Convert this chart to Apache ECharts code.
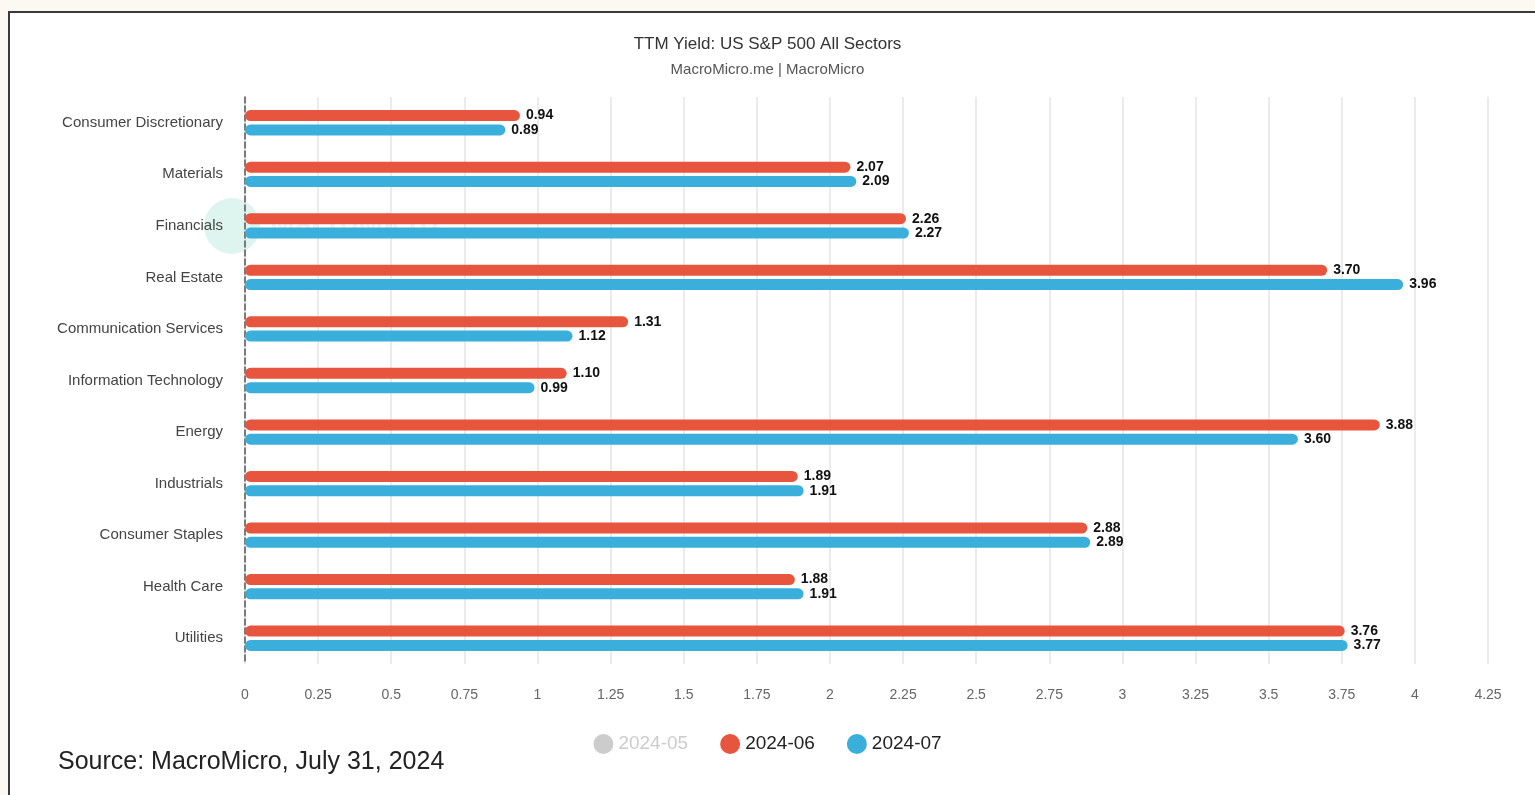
<!DOCTYPE html>
<html>
<head>
<meta charset="utf-8">
<title>TTM Yield: US S&P 500 All Sectors</title>
<script src="https://cdn.jsdelivr.net/npm/echarts@6/dist/echarts.min.js"></script>
<style>
    html, body { margin: 0; padding: 0; background: #fcf8f2; overflow: hidden; }
    #frame {
        position: absolute; left: 8px; top: 11px; width: 1540px; height: 800px;
        background: #fff; border-top: 2px solid #3a3a3a; border-left: 2px solid #3a3a3a;
    }
    #main { position: absolute; left: 0; top: 0; width: 1535px; height: 795px; }
</style>
</head>
<body>
<div id="frame"></div>
<div id="main"></div>
<script>
const sectors = ['Consumer Discretionary', 'Materials', 'Financials', 'Real Estate',
    'Communication Services', 'Information Technology', 'Energy', 'Industrials',
    'Consumer Staples', 'Health Care', 'Utilities'];
const may24 = []; // hidden in legend, values not shown
const jun24 = [0.94, 2.07, 2.26, 3.70, 1.31, 1.10, 3.88, 1.89, 2.88, 1.88, 3.76];
const jul24 = [0.89, 2.09, 2.27, 3.96, 1.12, 0.99, 3.60, 1.91, 2.89, 1.91, 3.77];

let chart = echarts.init(document.getElementById('main'), null, { renderer: 'canvas' });

function barSeries(name, data, color) {
    return {
        name: name,
        type: 'bar',
        data: data,
        barWidth: 11,
        barGap: '30%',
        itemStyle: {
            color: color,
            borderRadius: 6
        },
        label: {
            show: true,
            position: 'right',
            distance: 6,
            color: '#111',
            fontWeight: 'bold',
            fontSize: 14,
            fontFamily: 'Liberation Sans, Arial, sans-serif',
            formatter: p => p.value.toFixed(2)
        }
    };
}

chart.setOption({
    backgroundColor: 'transparent',
    textStyle: { fontFamily: 'Liberation Sans, Arial, sans-serif' },
    title: {
        text: 'TTM Yield: US S&P 500 All Sectors',
        subtext: 'MacroMicro.me | MacroMicro',
        left: 'center',
        top: 31,
        itemGap: 9,
        textStyle: { fontSize: 17, fontWeight: 'normal', color: '#333' },
        subtextStyle: { fontSize: 15, color: '#555' }
    },
    legend: {
        bottom: 36,
        left: 'center',
        icon: 'circle',
        itemWidth: 20,
        itemHeight: 20,
        itemGap: 32,
        textStyle: { fontSize: 19, color: '#222' },
        inactiveColor: '#ccc',
        data: ['2024-05', '2024-06', '2024-07'],
        selected: { '2024-05': false }
    },
    grid: {
        left: 245,
        right: 47,
        top: 97,
        bottom: 131,
        containLabel: false
    },
    xAxis: {
        type: 'value',
        min: 0,
        max: 4.25,
        interval: 0.25,
        axisLine: { show: false },
        axisTick: { show: false },
        axisLabel: { color: '#666', fontSize: 14, margin: 24 },
        splitLine: { lineStyle: { color: '#e4e4e4', width: 1.5 } }
    },
    yAxis: {
        type: 'category',
        inverse: true,
        data: sectors,
        axisLine: { lineStyle: { color: '#555', type: 'dashed', width: 1.5 } },
        axisTick: { show: false },
        axisLabel: { color: '#444', fontSize: 15, margin: 22 }
    },
    graphic: [
        {
            type: 'circle',
            shape: { cx: 232, cy: 226, r: 28 },
            style: { fill: '#d4f2ea', opacity: 0.8 },
            z: -1
        },
        {
            type: 'text',
            left: 270,
            top: 211,
            style: { text: 'MacroMicro', fontSize: 30, fontWeight: 'bold', fill: '#e4eef4', opacity: 0.7 },
            z: -1
        },
        {
            type: 'text',
            left: 58,
            top: 750,
            style: { text: 'Source: MacroMicro, July 31, 2024', fontSize: 25, fill: '#222', fontFamily: 'Liberation Sans, Arial, sans-serif' }
        }
    ],
    series: [
        barSeries('2024-05', may24, '#cccccc'),
        barSeries('2024-06', jun24, '#e8553e'),
        barSeries('2024-07', jul24, '#3aafdc')
    ]
});
</script>
</body>
</html>
